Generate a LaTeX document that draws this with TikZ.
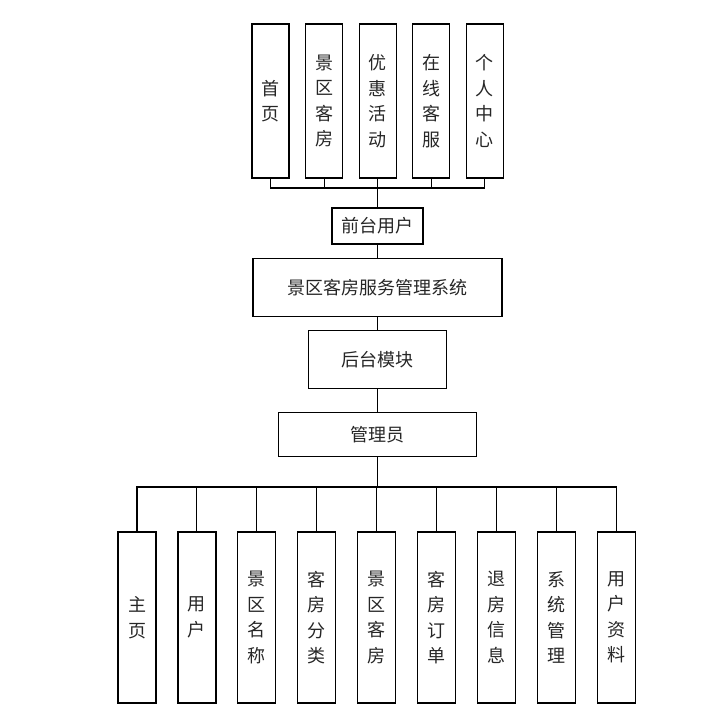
\documentclass[tikz,border=0pt]{standalone}
\usepackage{fontspec}
\setmainfont{Noto Sans CJK SC}
\usepackage{tikz}
\usetikzlibrary{positioning, calc}

\begin{document}
\begin{tikzpicture}[
    x=1pt, y=-1pt,
    box/.style={draw, rectangle, line width=1.2pt, inner sep=0pt, align=center, text=black!85, font=\fontsize{18}{25.5}\selectfont},
    tallbox/.style={box, minimum width=37pt, minimum height=154pt},
    leafbox/.style={box, minimum width=38pt, minimum height=171pt},
    link/.style={line width=1.1pt}
]
    \useasboundingbox (0,0) rectangle (702,708);

    % Central column
    \node[box, minimum width=91pt, minimum height=36pt] (front) at (377.5,226) {前台用户};
    \node[box, minimum width=249pt, minimum height=58pt] (sys) [below=13pt of front] {景区客房服务管理系统};
    \node[box, minimum width=138pt, minimum height=58pt] (back) [below=13pt of sys] {后台模块};
    \node[box, minimum width=198pt, minimum height=44pt] (admin) [below=23pt of back] {管理员};

    % Front-end modules
    \foreach \txt [count=\i] in {{首\\页}, {景\\区\\客\\房}, {优\\惠\\活\\动}, {在\\线\\客\\服}, {个\\人\\中\\心}}
        \node[tallbox] (top\i) at ({270.5+53.6*(\i-1)},101) {\txt};

    % Back-end modules
    \foreach \txt [count=\i] in {{主\\页}, {用\\户}, {景\\区\\名\\称}, {客\\房\\分\\类}, {景\\区\\客\\房}, {客\\房\\订\\单}, {退\\房\\信\\息}, {系\\统\\管\\理}, {用\\户\\资\\料}}
        \node[leafbox] (leaf\i) at ({137+59.9*(\i-1)},617.5) {\txt};

    % Buses
    \coordinate (topbus) at (377.5,188);
    \coordinate (leafbus) at (377.5,487);

    % Connections
    \foreach \i in {1,...,5}
        \draw[link] (front.north) -- (front.north |- topbus) -| (top\i.south);
    \draw[link] (front) -- (sys);
    \draw[link] (sys) -- (back);
    \draw[link] (back) -- (admin);
    \foreach \i in {1,...,9}
        \draw[link] (admin.south) -- (admin.south |- leafbus) -| (leaf\i.north);
\end{tikzpicture}
\end{document}
